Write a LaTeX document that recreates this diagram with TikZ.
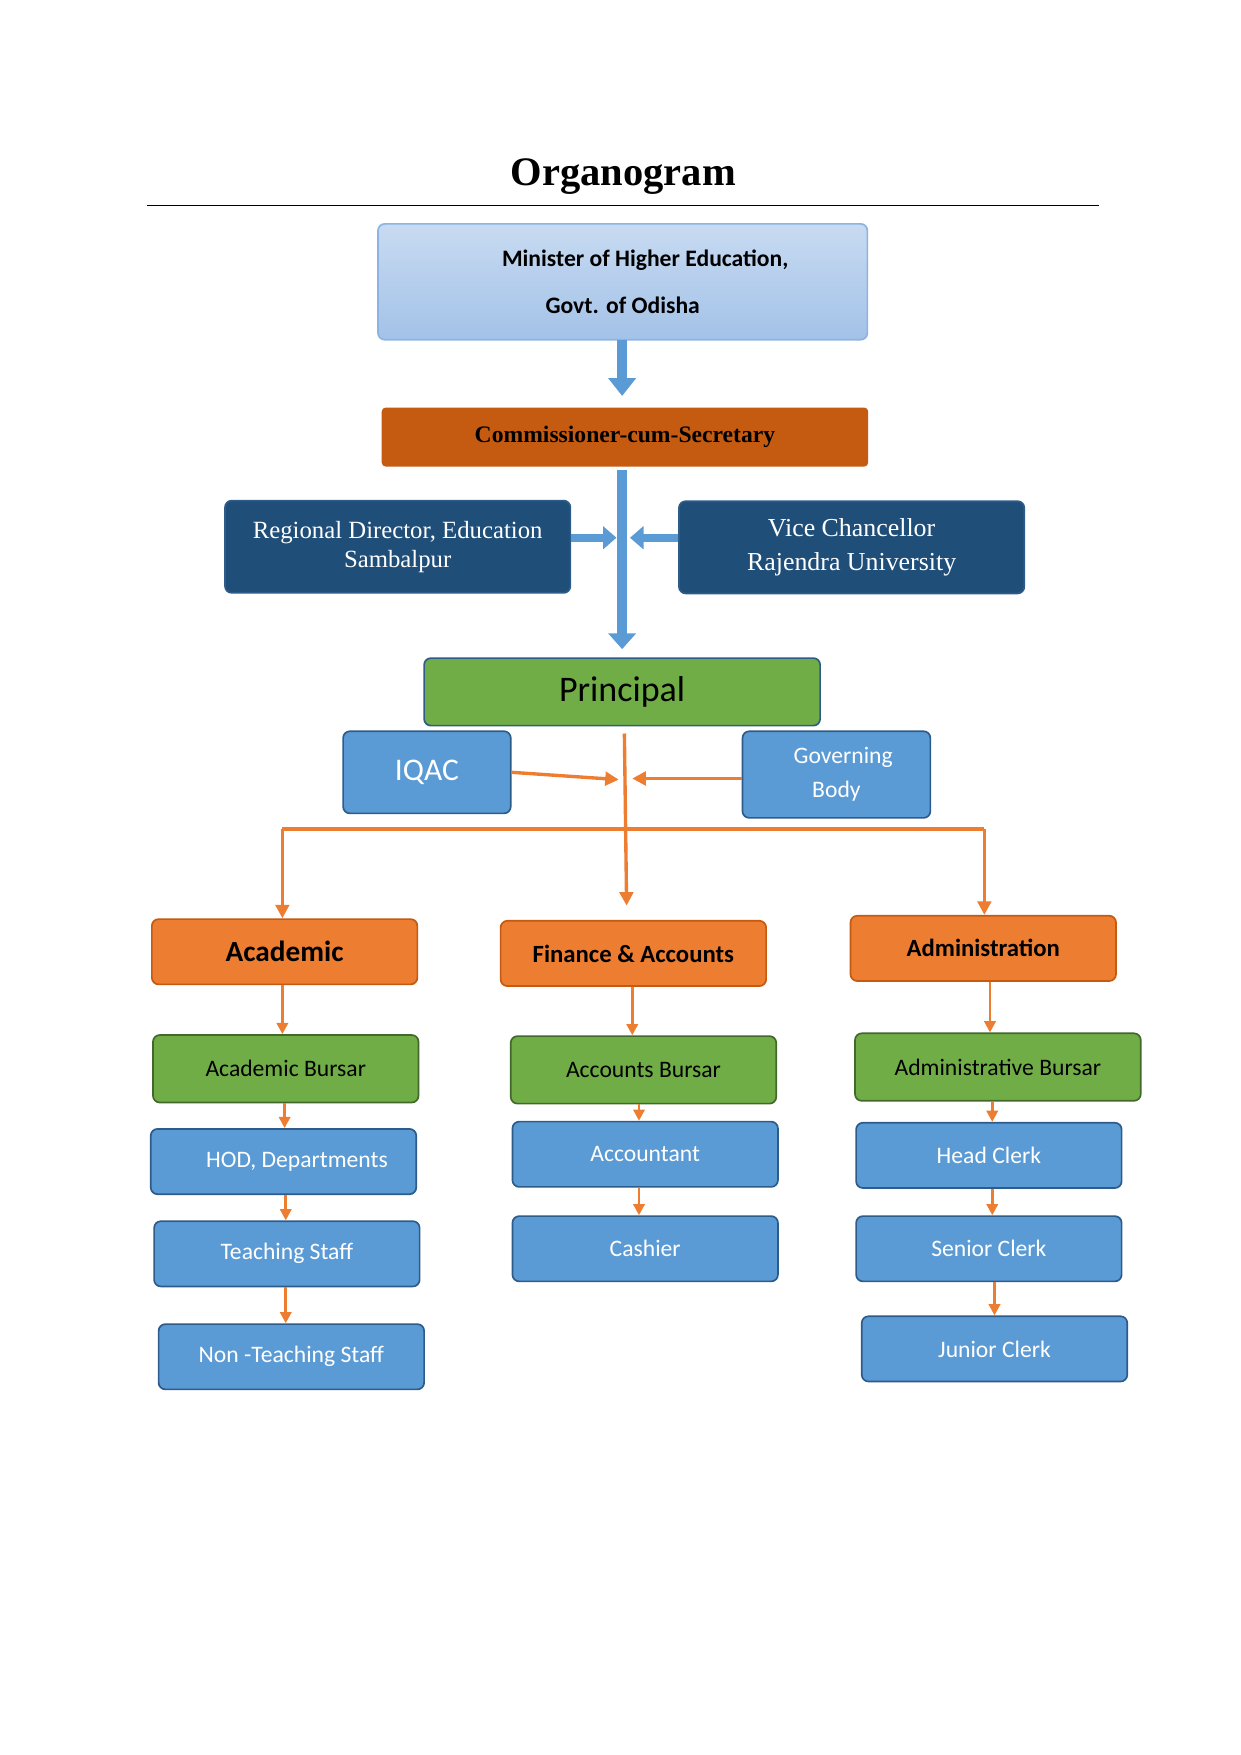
\documentclass[tikz,border=0pt]{standalone}
\usepackage{fontspec}
\setmainfont{Liberation Serif}
\newfontfamily\calib{Carlito}
\usetikzlibrary{arrows.meta}
\definecolor{lblue}{HTML}{A3C2E8}
\definecolor{lbord}{HTML}{8DB3E2}
\definecolor{rust}{HTML}{C55A11}
\definecolor{navy}{HTML}{1F4E79}
\definecolor{grn}{HTML}{70AD47}
\definecolor{mblue}{HTML}{5B9BD5}
\definecolor{orng}{HTML}{ED7D31}
\definecolor{bord}{HTML}{2E5C8A}
\begin{document}
\begin{tikzpicture}
[x=1pt,y=-1pt,
box/.style = {draw=bord, line width=1.5pt, rounded corners=6pt, align=center, inner sep=0pt},
staff/.style = {box, fill=mblue, text=white, font=\calib\fontsize{21}{25}\selectfont, minimum width=236, minimum height=58},
bursar/.style = {box, fill=grn, draw=grn!60!black, font=\calib\fontsize{21}{25}\selectfont, minimum height=60},
wing/.style = {box, fill=orng, draw=rust, font=\calib\bfseries\fontsize{22}{26}\selectfont, minimum width=236, minimum height=58},
dark/.style = {box, fill=navy, text=white, font=\fontsize{22}{26}\selectfont, minimum width=307, minimum height=82},
link/.style = {draw=orng, line width=3pt, -{Triangle[length=12pt,width=12pt]}},
pipe/.style = {draw=mblue, line width=9pt},
]
\useasboundingbox (0,0) rectangle (1103,1560);
\node (title) at (554,157) {\bfseries\fontsize{36}{40}\selectfont Organogram};
\draw[line width=0.8pt] (131,183) -- (977,183);
\node (min) at (553.5,250.5)[box, draw=lbord, top color=lblue!60, bottom color=lblue, minimum width=435, minimum height=103, font=\calib\bfseries\fontsize{21}{42}\selectfont] {\hspace*{40pt}Minister of Higher Education,\\Govt. of Odisha};
\node (com) at (555.5,388.5)[box, fill=rust, draw=rust, rounded corners=3pt, minimum width=431, minimum height=51, font=\bfseries\fontsize{21}{25}\selectfont] {Commissioner-cum-Secretary};
\node (rd) at (353.5,486)[dark] {Regional Director, Education\\Sambalpur};
\node (vc) at (757,486.5)[dark, font=\fontsize{23}{30}\selectfont] {Vice Chancellor\\Rajendra University};
\node (pr) at (553,615)[box, fill=grn, draw=bord, minimum width=352, minimum height=60, font=\calib\fontsize{32}{36}\selectfont] {Principal};
\node (iq) at (379.5,686.5)[box, fill=mblue, text=white, minimum width=149, minimum height=73, font=\calib\fontsize{28}{32}\selectfont] {IQAC};
\node (gb) at (743.5,688.5)[box, fill=mblue, text=white, minimum width=167, minimum height=77, font=\calib\fontsize{21}{30}\selectfont] {\hspace*{12pt}Governing\\Body};
% blue connectors
\coordinate (c1) at (553,302);
\coordinate (c2) at (553,352);
\coordinate (c3) at (553,418);
\coordinate (c4) at (553,577);
\coordinate (c5) at (548,478);
\coordinate (c6) at (560,478);
\draw[pipe, -{Triangle[length=16pt,width=24pt]}] (c1) -- (c2);
\draw[pipe, -{Triangle[length=14pt,width=24pt]}] (c3) -- (c4);
\draw[pipe, line width=7pt, -{Triangle[length=12pt,width=20pt]}] (rd.east |- c5) -- (c5);
\draw[pipe, line width=7pt, -{Triangle[length=12pt,width=20pt]}] (vc.west |- c6) -- (c6);
% wings
\node (ac) at (253,846)[wing, font=\calib\bfseries\fontsize{26}{30}\selectfont] {Academic};
\node (fa) at (563,847.5)[wing] {Finance \& Accounts};
\node (ad) at (874,843)[wing] {Administration};
\coordinate (o1) at (555,652);
\coordinate (o2) at (557,805);
\coordinate (o3) at (550,693);
\coordinate (o4) at (562,692);
\coordinate (h1) at (251,737);
\coordinate (h2) at (875,737);
\draw[link] (o1) -- (o2);
\draw[link] (iq.east) -- (o3);
\draw[link] (gb.west |- o4) -- (o4);
\draw[draw=orng, line width=3pt] (h1) -- (h2);
\draw[link] (h1) -- (ac.north -| h1);
\draw[link] (h2) -- (ad.north -| h2);
% academic
\node (ab) at (254,950)[bursar, minimum width=236] {Academic Bursar};
\node (hod) at (252,1032.5)[staff] {\hspace*{24pt}HOD, Departments};
\node (ts) at (255,1114.5)[staff] {Teaching Staff};
\node (nts) at (259,1206)[staff] {Non -Teaching Staff};
% finance
\node (fb) at (572,951)[bursar, minimum width=236] {Accounts Bursar};
\node (acc) at (573.5,1026)[staff] {Accountant};
\node (cas) at (573.5,1110)[staff] {Cashier};
% administration
\node (db) at (887,948.5)[bursar, minimum width=254] {Administrative Bursar};
\node (hc) at (879,1027)[staff] {Head Clerk};
\node (sc) at (879,1110)[staff] {Senior Clerk};
\node (jc) at (884,1199)[staff] {Junior Clerk};
\foreach \a/\b/\x in {ac/ab/251, ab/hod/253, hod/ts/254, ts/nts/254,
  fa/fb/562, fb/acc/568, acc/cas/568,
  ad/db/880, db/hc/882, hc/sc/882, sc/jc/884}
  \draw[link, line width=2.5pt, -{Triangle[length=10pt,width=10pt]}] (\a.south -| \x,0) -- (\b.north -| \x,0);
\end{tikzpicture}
\end{document}
